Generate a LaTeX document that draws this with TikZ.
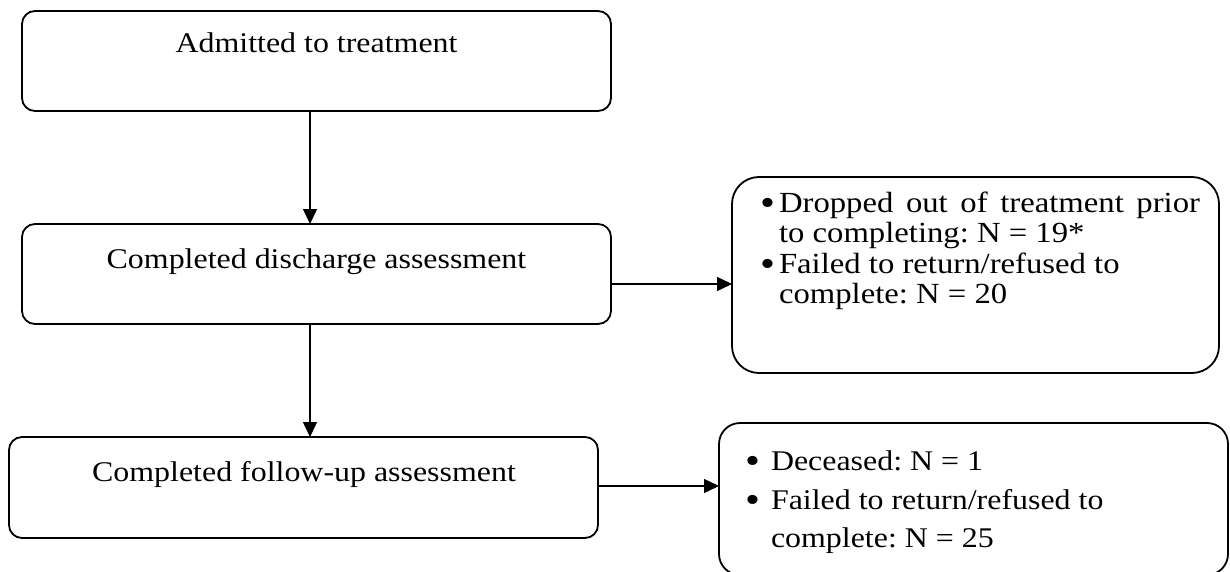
\documentclass[tikz,border=0pt]{standalone}
\usepackage{fontspec}
\setmainfont{Liberation Serif}[FakeStretch=1.12]
\usetikzlibrary{arrows.meta}
\frenchspacing
\tikzset{
  box/.style={draw, line width=1.8pt, rounded corners=13pt, inner sep=0pt, outer sep=0pt},
  arr/.style={line width=1.4pt, -{Triangle[length=15pt,width=14pt]}},
  txt/.style={inner sep=0pt, outer sep=0pt, font=\fontsize{28.5}{31}\selectfont},
  bul/.style={inner sep=0pt, outer sep=0pt, anchor=base, font=\fontsize{38}{38}\selectfont},
  line/.style={txt, anchor=base west},
  rline/.style={inner sep=0pt, outer sep=0pt, anchor=base west, font=\fontsize{29.2}{31}\selectfont},
}
\begin{document}
\begin{tikzpicture}[x=1pt,y=-1pt]
\useasboundingbox (0,0) rectangle (1230,572);
% boxes
\node[box, minimum width=589pt, minimum height=100pt] (A) at (316.5,61) {};
\node[box, minimum width=589pt, minimum height=100pt] (B) at (316.5,274) {};
\node[box, minimum width=589pt, minimum height=101pt] (C) at (303.5,487.5) {};
\node[box, rounded corners=27pt, minimum width=487pt, minimum height=196pt] (R1) at (975.5,275) {};
\node[box, rounded corners=21pt, minimum width=509pt, minimum height=152pt] (R2) at (973.5,499) {};
% texts
\node[txt, anchor=base] (tA) at (316.5,53) {Admitted to treatment};
\node[txt, anchor=base] (tB) at (316.5,268) {Completed discharge assessment};
\node[txt, anchor=base] (tC) at (304,481) {Completed follow-up assessment};
\node[bul] (b11) at (768,215) {\textbullet};
\node[rline] (l11) at (779,212) {\makebox[421pt][s]{Dropped out of treatment prior}};
\node[rline] (l12) at (779,242) {to completing: N = 19*};
\node[bul] (b12) at (768,276) {\textbullet};
\node[rline] (l13) at (779,273) {Failed to return/refused to};
\node[rline] (l14) at (779,303) {complete: N = 20};
\node[bul] (b21) at (753,473) {\textbullet};
\node[line] (l21) at (771,470) {Deceased: N = 1};
\node[bul] (b22) at (753,512) {\textbullet};
\node[line] (l22) at (771,509) {Failed to return/refused to};
\node[line] (l23) at (771,547) {complete: N = 25};
% connectors
\coordinate (vx) at (310,0);
\coordinate (h1) at (0,284);
\coordinate (h2) at (0,486);
\draw[arr] (A.south -| vx) -- (B.north -| vx);
\draw[arr] (B.south -| vx) -- (C.north -| vx);
\draw[arr] (B.east |- h1) -- (R1.west |- h1);
\draw[arr] (C.east |- h2) -- (R2.west |- h2);
\end{tikzpicture}
\end{document}
